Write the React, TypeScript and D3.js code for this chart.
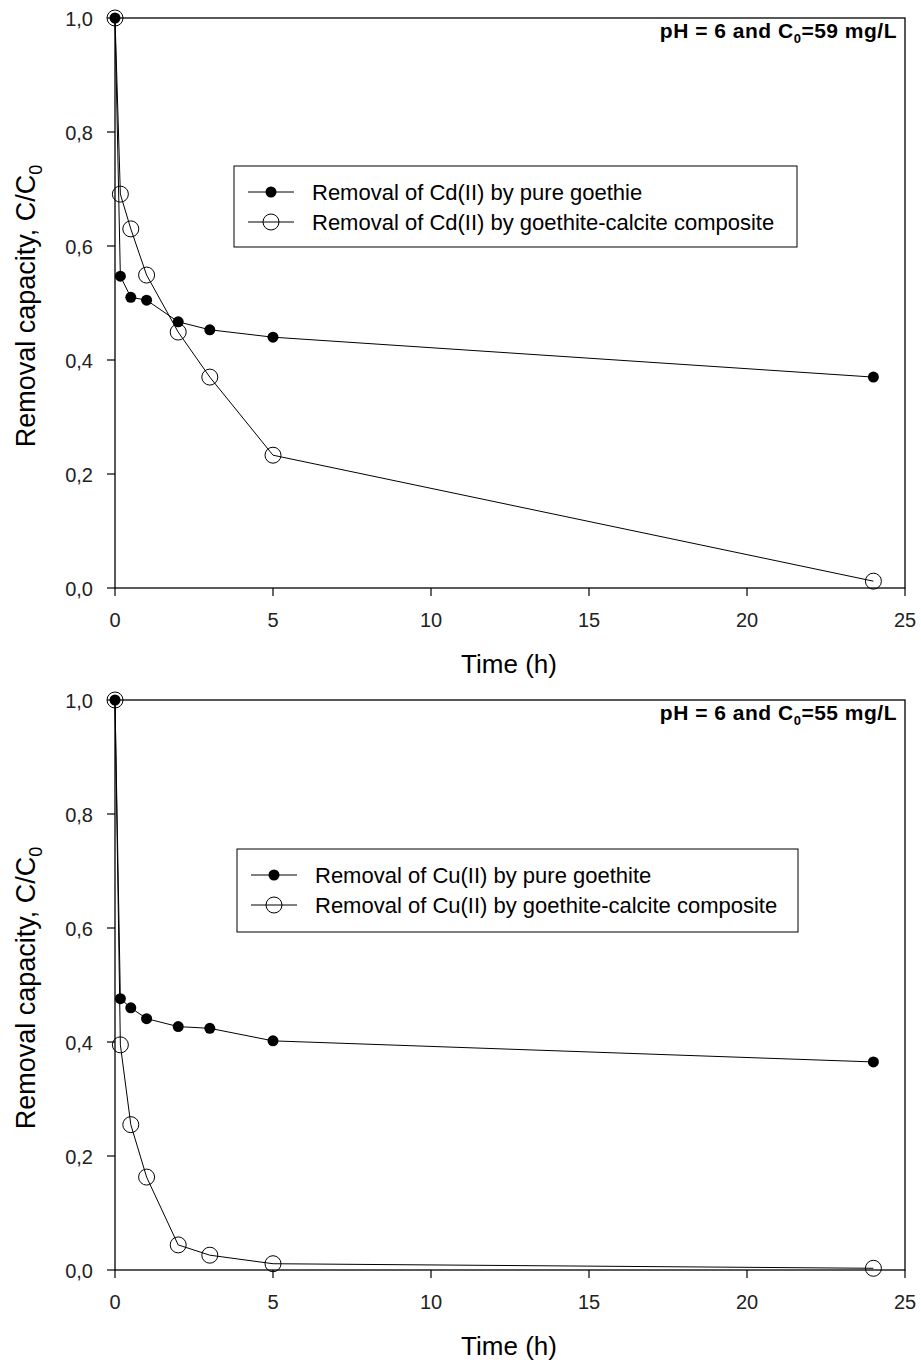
import React from "react";
import * as d3 from "d3";

const timeH = [0, 0.17, 0.5, 1, 2, 3, 5, 24];
const cdPure = [1.0, 0.547, 0.51, 0.505, 0.467, 0.453, 0.44, 0.37];
const cdComposite = [1.0, 0.691, 0.63, 0.549, 0.449, 0.37, 0.233, 0.012];
const cuPure = [1.0, 0.476, 0.46, 0.441, 0.427, 0.424, 0.402, 0.365];
const cuComposite = [1.0, 0.395, 0.255, 0.163, 0.044, 0.026, 0.011, 0.003];
const xTicks = [0, 5, 10, 15, 20, 25];
const yTicks = [0, 0.2, 0.4, 0.6, 0.8, 1.0];
const legendCd = ["Removal of Cd(II) by pure goethie", "Removal of Cd(II) by goethite-calcite composite"];
const legendCu = ["Removal of Cu(II) by pure goethite", "Removal of Cu(II) by goethite-calcite composite"];

const FONT = "'Liberation Sans', Arial, sans-serif";

type PanelProps = {
  top: number;
  filled: number[];
  open: number[];
  legend: string[];
  legendBox: { x: number; y: number; w: number; h: number };
  c0: string;
};

function Panel({ top, filled, open, legend, legendBox, c0 }: PanelProps) {
  const left = 115;
  const right = 905;
  const height = 570;
  const x = d3.scaleLinear().domain([0, 25]).range([left, right]);
  const y = d3.scaleLinear().domain([0, 1]).range([top + height, top]);
  const line = d3
    .line<number>()
    .x((_, i) => x(timeH[i]))
    .y((d) => y(d));
  const bottom = top + height;
  return (
    <g>
      <rect x={left} y={top} width={right - left} height={height} fill="none" stroke="#000" strokeWidth={1.3} />
      {xTicks.map((t) => (
        <g key={"x" + t}>
          <line x1={x(t)} x2={x(t)} y1={bottom} y2={bottom + 8} stroke="#000" strokeWidth={1.2} />
          <text x={x(t)} y={bottom + 39} textAnchor="middle" fontFamily={FONT} fontSize={20} fill="#222">
            {t}
          </text>
        </g>
      ))}
      {yTicks.map((t) => (
        <g key={"y" + t}>
          <line x1={left - 8} x2={left} y1={y(t)} y2={y(t)} stroke="#000" strokeWidth={1.2} />
          <text x={left - 22} y={y(t) + 8} textAnchor="end" fontFamily={FONT} fontSize={20} fill="#222">
            {t.toFixed(1).replace(".", ",")}
          </text>
        </g>
      ))}
      <path d={line(open) || ""} fill="none" stroke="#000" strokeWidth={1} />
      <path d={line(filled) || ""} fill="none" stroke="#000" strokeWidth={1} />
      {open.map((v, i) => (
        <circle key={"o" + i} cx={x(timeH[i])} cy={y(v)} r={8} fill="none" stroke="#000" strokeWidth={1} />
      ))}
      {filled.map((v, i) => (
        <circle key={"f" + i} cx={x(timeH[i])} cy={y(v)} r={5.5} fill="#000" />
      ))}
      <text x={509} y={bottom + 85} textAnchor="middle" fontFamily={FONT} fontSize={26} fill="#000">
        Time (h)
      </text>
      <text
        transform={`translate(35, ${top + height / 2 + 3}) rotate(-90)`}
        textAnchor="middle"
        fontFamily={FONT}
        fontSize={27}
        fill="#000"
      >
        Removal capacity, C/C<tspan fontSize={18} dy={7}>0</tspan>
      </text>
      <text
        x={897}
        y={top + 20}
        textAnchor="end"
        fontFamily={FONT}
        fontSize={21}
        fontWeight="bold"
        letterSpacing={0.5}
        fill="#000"
      >
        pH = 6 and C<tspan fontSize={13} dy={5}>0</tspan>
        <tspan dy={-5}>={c0} mg/L</tspan>
      </text>
      <rect x={legendBox.x} y={legendBox.y} width={legendBox.w} height={legendBox.h} fill="#fff" stroke="#000" strokeWidth={1} />
      {legend.map((label, i) => {
        const ly = legendBox.y + 26 + i * 30;
        const lx = legendBox.x + 14;
        return (
          <g key={"l" + i}>
            <line x1={lx} x2={lx + 46} y1={ly} y2={ly} stroke="#000" strokeWidth={1} />
            {i === 0 ? (
              <circle cx={lx + 23} cy={ly} r={5.5} fill="#000" />
            ) : (
              <circle cx={lx + 23} cy={ly} r={8} fill="none" stroke="#000" strokeWidth={1} />
            )}
            <text x={legendBox.x + 78} y={ly + 8} fontFamily={FONT} fontSize={22} fill="#000">
              {label}
            </text>
          </g>
        );
      })}
    </g>
  );
}

export default function App() {
  return (
    <svg width={921} height={1363} style={{ display: "block", position: "absolute", left: 0, top: 0 }}>
      <rect x={0} y={0} width={921} height={1363} fill="#fff" />
      <Panel
        top={18}
        filled={cdPure}
        open={cdComposite}
        legend={legendCd}
        legendBox={{ x: 234, y: 166, w: 563, h: 81 }}
        c0="59"
      />
      <Panel
        top={700}
        filled={cuPure}
        open={cuComposite}
        legend={legendCu}
        legendBox={{ x: 237, y: 849, w: 561, h: 83 }}
        c0="55"
      />
    </svg>
  );
}
